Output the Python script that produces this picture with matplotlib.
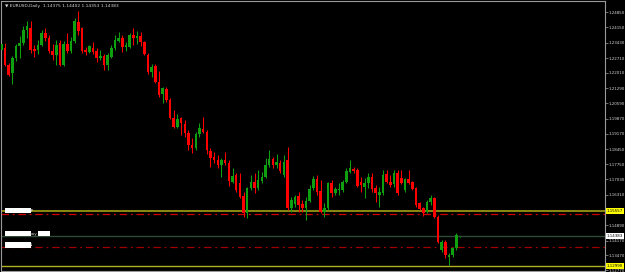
import numpy as np
import matplotlib
matplotlib.use("Agg")
import matplotlib.pyplot as plt
import matplotlib.transforms as mtransforms

title_text = "\u25bc EURUSD,Daily  1.14375 1.14402 1.14353 1.14383"

opens = [1.23086, 1.23180, 1.22384, 1.22010, 1.22712, 1.23273, 1.23414, 1.24022, 1.24116, 1.23133,
         1.23086, 1.23320, 1.23882, 1.23648, 1.23039, 1.22852, 1.23414, 1.22384, 1.23367, 1.23039,
         1.23507, 1.24396, 1.24116, 1.23086, 1.22992, 1.23180, 1.23039, 1.22712, 1.22805, 1.22384,
         1.22758, 1.23180, 1.23507, 1.23648, 1.23226, 1.23226, 1.23788, 1.23648, 1.23741, 1.23460,
         1.22852, 1.22056, 1.22337, 1.21588, 1.21027, 1.21261, 1.20746, 1.19904, 1.19482, 1.19904,
         1.19623, 1.19202, 1.18640, 1.18500, 1.19155, 1.19389, 1.19248, 1.18360, 1.18078, 1.17938,
         1.17704, 1.17938, 1.17798, 1.16908, 1.17236, 1.16862, 1.16253, 1.15458, 1.16628, 1.16908,
         1.16628, 1.16955, 1.17142, 1.17704, 1.17985, 1.17704, 1.17798, 1.17236, 1.17938, 1.15692,
         1.15879, 1.16253, 1.15879, 1.15692, 1.16019, 1.16628, 1.17049, 1.16487, 1.15504, 1.15692,
         1.16862, 1.16394, 1.16534, 1.16534, 1.16908, 1.17376, 1.17517, 1.17470, 1.16908, 1.16674,
         1.16862, 1.17142, 1.16628, 1.16300, 1.16394, 1.17283, 1.16908, 1.16815, 1.17330, 1.17096,
         1.16534, 1.17049, 1.16908, 1.16628, 1.15926, 1.15692, 1.15504, 1.15972, 1.16160, 1.15270,
         1.13726, 1.14100, 1.13398, 1.13492, 1.13820, 1.14375]
highs = [1.23554, 1.23414, 1.22478, 1.22805, 1.23367, 1.23741, 1.24209, 1.24443, 1.24443, 1.23320,
         1.23554, 1.24022, 1.24116, 1.23788, 1.23367, 1.23554, 1.23554, 1.23507, 1.23882, 1.23694,
         1.24584, 1.24911, 1.24162, 1.23226, 1.23320, 1.23460, 1.23180, 1.23086, 1.22899, 1.22946,
         1.23320, 1.23788, 1.23928, 1.23788, 1.23460, 1.23882, 1.24116, 1.23975, 1.23928, 1.23507,
         1.22946, 1.22431, 1.22431, 1.22103, 1.21354, 1.21354, 1.20840, 1.20278, 1.20091, 1.19950,
         1.19810, 1.19342, 1.18968, 1.19248, 1.19670, 1.19950, 1.19342, 1.18500, 1.18313, 1.18172,
         1.18032, 1.18313, 1.17938, 1.17564, 1.17330, 1.17330, 1.16440, 1.16674, 1.17236, 1.17330,
         1.17470, 1.17376, 1.18032, 1.18406, 1.18078, 1.18219, 1.17938, 1.18172, 1.18546, 1.16206,
         1.16300, 1.16440, 1.16066, 1.16206, 1.16768, 1.17189, 1.17236, 1.17002, 1.15926, 1.16908,
         1.17002, 1.16674, 1.16862, 1.17002, 1.17564, 1.17938, 1.17610, 1.17564, 1.17142, 1.17096,
         1.17330, 1.17330, 1.16768, 1.16674, 1.17470, 1.17470, 1.17236, 1.17470, 1.17470, 1.17470,
         1.17096, 1.17470, 1.16955, 1.16674, 1.15972, 1.15738, 1.16066, 1.16300, 1.16206, 1.15364,
         1.14194, 1.14194, 1.13586, 1.13866, 1.14522, 1.14402]
lows = [1.22946, 1.22337, 1.21869, 1.21495, 1.22571, 1.22712, 1.23320, 1.23648, 1.22946, 1.22758,
        1.22899, 1.23273, 1.23507, 1.22946, 1.22618, 1.22384, 1.22337, 1.22337, 1.22946, 1.22946,
        1.23414, 1.23788, 1.22946, 1.22852, 1.22946, 1.22899, 1.22524, 1.22618, 1.22150, 1.22150,
        1.22712, 1.23086, 1.23460, 1.22992, 1.23039, 1.23180, 1.23320, 1.23367, 1.23273, 1.22852,
        1.21963, 1.21822, 1.21542, 1.20886, 1.20606, 1.20652, 1.19857, 1.19436, 1.19436, 1.19108,
        1.19014, 1.18406, 1.18266, 1.18406, 1.19014, 1.19202, 1.18219, 1.17610, 1.17798, 1.17564,
        1.17142, 1.17704, 1.16721, 1.16862, 1.16440, 1.16160, 1.15270, 1.15224, 1.16534, 1.16394,
        1.16534, 1.16862, 1.17096, 1.17610, 1.17564, 1.17564, 1.17330, 1.17142, 1.15598, 1.15504,
        1.15738, 1.15504, 1.15504, 1.15130, 1.15972, 1.16534, 1.16300, 1.15458, 1.15270, 1.15598,
        1.16206, 1.16300, 1.16300, 1.16440, 1.16862, 1.17330, 1.17330, 1.16674, 1.16440, 1.16160,
        1.16628, 1.16440, 1.15972, 1.15738, 1.16300, 1.16862, 1.16674, 1.16674, 1.16300, 1.16815,
        1.16440, 1.16815, 1.16534, 1.15738, 1.15598, 1.15317, 1.15458, 1.15832, 1.15224, 1.14054,
        1.13632, 1.13352, 1.13024, 1.13398, 1.13726, 1.14353]
closes = [1.23367, 1.22384, 1.21916, 1.22712, 1.23273, 1.23414, 1.24022, 1.24209, 1.23086, 1.23039,
          1.23320, 1.23882, 1.23648, 1.23039, 1.22852, 1.23320, 1.22384, 1.23367, 1.23039, 1.23507,
          1.24443, 1.23975, 1.23039, 1.22992, 1.23273, 1.22992, 1.22712, 1.22805, 1.22384, 1.22852,
          1.23180, 1.23554, 1.23648, 1.23226, 1.23320, 1.23788, 1.23648, 1.23741, 1.23460, 1.22899,
          1.22056, 1.22290, 1.21588, 1.20980, 1.21308, 1.20746, 1.19904, 1.19482, 1.19857, 1.19670,
          1.19202, 1.18640, 1.18500, 1.19155, 1.19436, 1.19248, 1.18406, 1.18032, 1.17938, 1.17704,
          1.17938, 1.17798, 1.16955, 1.17189, 1.16534, 1.16206, 1.15458, 1.16628, 1.16908, 1.16628,
          1.17002, 1.17142, 1.17704, 1.17985, 1.17704, 1.17844, 1.17423, 1.17844, 1.15692, 1.16066,
          1.16206, 1.15832, 1.15692, 1.16019, 1.16581, 1.17049, 1.16440, 1.15504, 1.15692, 1.16862,
          1.16394, 1.16581, 1.16581, 1.16908, 1.17423, 1.17564, 1.17423, 1.16721, 1.16768, 1.16862,
          1.17142, 1.16581, 1.16394, 1.16440, 1.17236, 1.16908, 1.16768, 1.17330, 1.16394, 1.16862,
          1.17049, 1.16862, 1.16581, 1.15832, 1.15645, 1.15458, 1.15972, 1.16160, 1.15270, 1.14100,
          1.14100, 1.13492, 1.13492, 1.13820, 1.14428, 1.14383]

price_ticks = [1.24850, 1.24150, 1.23430, 1.22710, 1.22010, 1.21290, 1.20590, 1.19870,
               1.19170, 1.18450, 1.17750, 1.17030, 1.16310, 1.14890, 1.14170,
               1.13470, 1.12770]

tp_level = 1.15557
tp_mark = 1.15398
bid_level = 1.14383
sl_mark = 1.13880
low_level = 1.12990

o = np.array(opens); h = np.array(highs); l = np.array(lows); c = np.array(closes)
idx = np.arange(len(o))
up = c >= o

BG = "#000000"
GREEN = "#0fa00f"
RED = "#ff0000"
FG = "#d8d8d8"
FRAME = "#9a9a9a"

fig = plt.figure(figsize=(6.25, 2.72), dpi=100, facecolor=BG)
ax = fig.add_axes([1 / 625, 1.5 / 272, 604 / 625, 269.5 / 272], facecolor=BG)

ax.set_xlim(-0.08, 164.5)
ax.set_ylim(1.12767, 1.25379)

# level lines
ax.axhline(tp_level, color="#8a8a12", lw=1.4, zorder=1)
ax.axhline(tp_mark, color="#d00000", lw=0.9, ls=(0, (6, 3, 1.5, 3)), zorder=1)
ax.axhline(bid_level, color="#2f4a34", lw=1.0, zorder=1)
ax.axhline(sl_mark, color="#a00000", lw=0.9, ls=(0, (6, 3, 1.5, 3)), zorder=1)
ax.axhline(low_level, color="#b0b020", lw=1.0, zorder=1)

# candles
cols = np.where(up, GREEN, RED)
ax.vlines(idx, l, h, colors=cols, lw=0.75, zorder=2)
body_low = np.minimum(o, c)
body_h = np.maximum(np.abs(c - o), 0.00025)
ax.bar(idx, body_h, bottom=body_low, width=0.7, color=cols, edgecolor="none", zorder=3)

# frame & axis
for side in ["left", "right", "top", "bottom"]:
    ax.spines[side].set_color(FRAME)
    ax.spines[side].set_linewidth(0.8)
ax.set_xticks([])
ax.yaxis.tick_right()
ax.set_yticks(price_ticks)
ax.set_yticklabels([f"{v:.5f}" for v in price_ticks])
ax.tick_params(axis="y", colors=FRAME, labelcolor=FG, labelsize=2.9, length=1.8, width=0.5, pad=0.8)

trans = mtransforms.blended_transform_factory(ax.transAxes, ax.transData)
for lvl, fc in [(tp_level, "#ffff00"), (bid_level, "#ffffff"), (low_level, "#ffff00")]:
    ax.text(1.003, lvl, f"{lvl:.5f}", transform=trans, ha="left", va="center",
            fontsize=2.9, color="black", clip_on=False, zorder=10,
            bbox=dict(facecolor=fc, edgecolor="none", pad=0.6))

# left labels
labels_left = [(tp_level + 0.0003, "tp"), (bid_level + 0.0010, "buy"), (sl_mark + 0.0008, "sl")]
for lvl, txt in labels_left:
    ax.text(0.007, lvl, "\u2007" * 9, transform=trans, ha="left", va="center", fontsize=3.2,
            color="white", zorder=9, bbox=dict(facecolor="white", edgecolor="none", pad=0.4))
    ax.text(0.048, lvl, txt, transform=trans, ha="left", va="center", fontsize=3.0,
            color=FG, zorder=9)
ax.text(0.062, bid_level + 0.0010, "\u2007" * 4, transform=trans, ha="left", va="center",
        fontsize=3.2, color="white", zorder=9,
        bbox=dict(facecolor="white", edgecolor="none", pad=0.4))

ax.text(0.006, 0.99, title_text, transform=ax.transAxes, ha="left", va="top",
        fontsize=3.2, color=FG, zorder=10)

fig.savefig("out.png", dpi=100, facecolor=BG)
